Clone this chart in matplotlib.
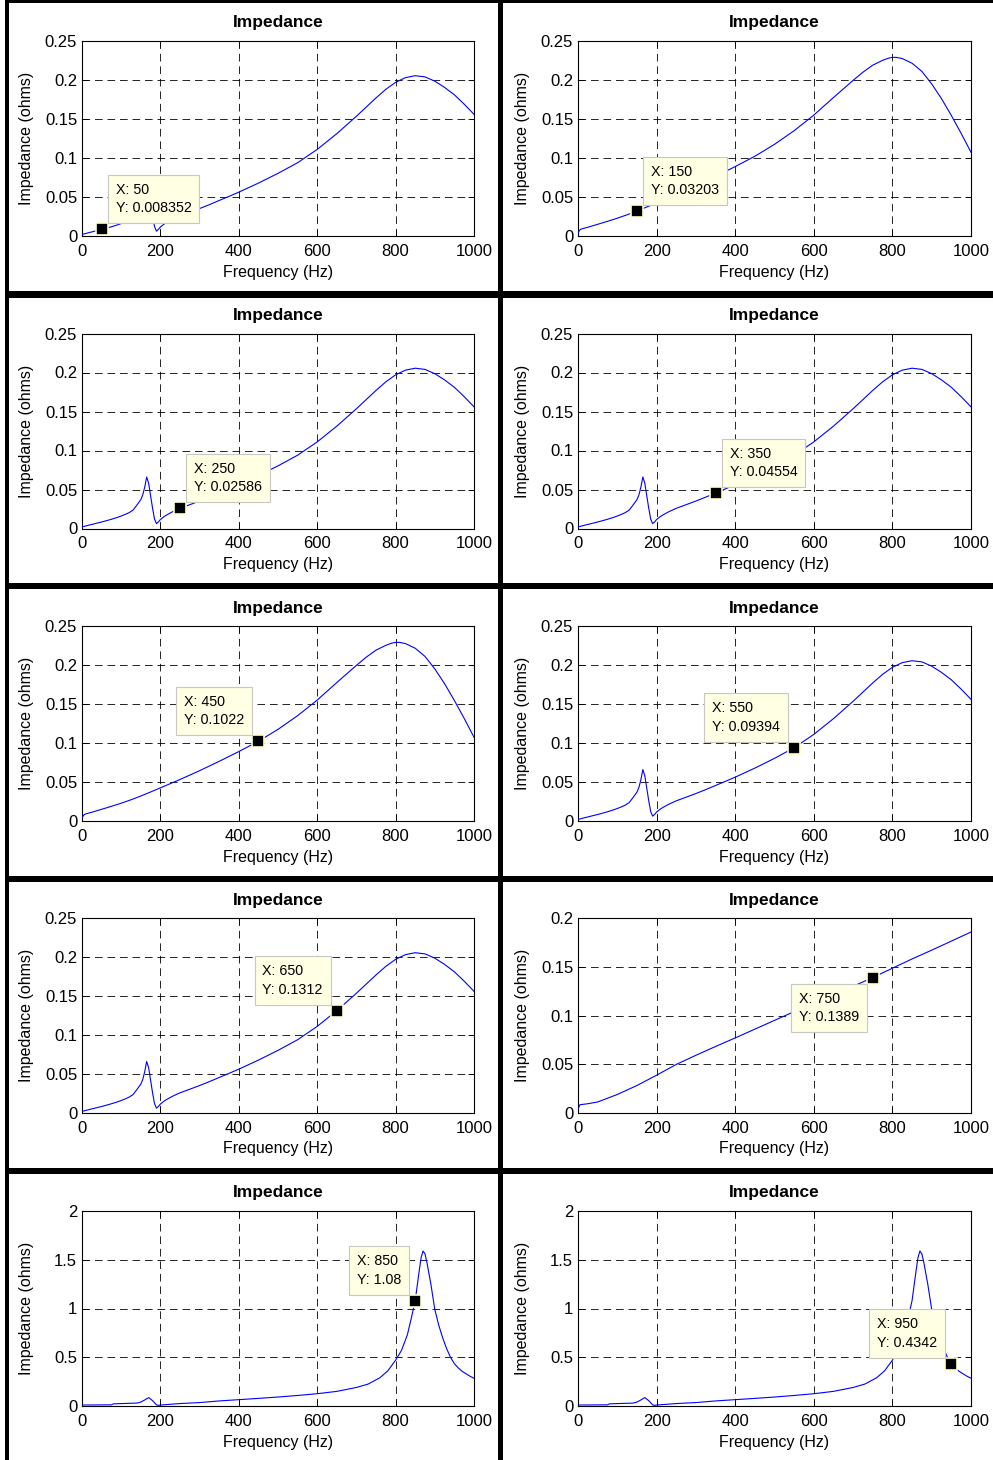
import matplotlib
matplotlib.use("Agg")
import matplotlib.pyplot as plt
from matplotlib.patches import Rectangle
from matplotlib.ticker import FuncFormatter

plt.rcParams["font.family"] = ["Liberation Sans", "DejaVu Sans"]
plt.rcParams["lines.scale_dashes"] = False

# ---- impedance curves (ohms) vs frequency (Hz) ----
freq_a = [0, 10, 20, 30, 40, 50, 60, 70, 80, 90, 100, 110, 120, 130, 140, 150,
          155, 160, 165, 170, 175, 180, 185, 190, 195, 200, 210, 220, 230, 240,
          250, 275, 300, 325, 350, 375, 400, 450, 500, 550, 600, 650, 700, 750,
          775, 800, 825, 850, 875, 900, 925, 950, 975, 1000]
impedance_a = [0.0020, 0.0033, 0.0046, 0.0058, 0.0071, 0.008352, 0.0097, 0.0111,
               0.0126, 0.0142, 0.0160, 0.0180, 0.0203, 0.0235, 0.0300, 0.0370,
               0.0430, 0.0530, 0.0660, 0.0580, 0.0420, 0.0260, 0.0120, 0.0062,
               0.0085, 0.0115, 0.0155, 0.0185, 0.0212, 0.0236, 0.02586, 0.0305,
               0.0352, 0.0402, 0.04554, 0.0508, 0.0562, 0.0678, 0.0803, 0.09394,
               0.1110, 0.1312, 0.1535, 0.1770, 0.1880, 0.1970, 0.2030, 0.2055,
               0.2040, 0.1985, 0.1905, 0.1810, 0.1690, 0.1560]

freq_b = [0, 5, 10, 25, 50, 75, 100, 125, 150, 175, 200, 250, 300, 350, 400,
          450, 500, 550, 600, 650, 700, 725, 750, 775, 790, 800, 810, 825, 850,
          875, 900, 925, 950, 975, 1000]
impedance_b = [0.0040, 0.0080, 0.0092, 0.0112, 0.0150, 0.0188, 0.0228, 0.0272,
               0.03203, 0.0372, 0.0425, 0.0532, 0.0645, 0.0765, 0.0890, 0.1022,
               0.1175, 0.1350, 0.1550, 0.1775, 0.1995, 0.2100, 0.2190, 0.2252,
               0.2280, 0.2290, 0.2290, 0.2275, 0.2215, 0.2110, 0.1950, 0.1760,
               0.1545, 0.1315, 0.1074]

freq_c = [0, 5, 25, 50, 100, 150, 200, 250, 300, 350, 400, 450, 500, 550, 600,
          650, 700, 750, 800, 850, 900, 950, 1000]
impedance_c = [0.0040, 0.0085, 0.0095, 0.0113, 0.0190, 0.0282, 0.0388, 0.0498,
               0.0592, 0.0682, 0.0770, 0.0860, 0.0950, 0.1040, 0.1125, 0.1212,
               0.1300, 0.1389, 0.1485, 0.1580, 0.1670, 0.1763, 0.1856]

freq_d = [0, 75, 80, 140, 150, 160, 170, 180, 190, 195, 200, 250, 300, 350, 400,
          450, 500, 550, 600, 650, 700, 730, 760, 780, 800, 815, 830, 840, 850,
          860, 865, 870, 875, 880, 890, 900, 910, 920, 930, 940, 950, 960, 970,
          980, 990, 1000]
impedance_d = [0.010, 0.012, 0.022, 0.030, 0.040, 0.062, 0.086, 0.055, 0.012,
               0.006, 0.010, 0.025, 0.035, 0.052, 0.065, 0.078, 0.092, 0.108,
               0.126, 0.150, 0.190, 0.225, 0.290, 0.360, 0.470, 0.570, 0.730,
               0.900, 1.08, 1.38, 1.52, 1.59, 1.56, 1.47, 1.25, 0.99, 0.83,
               0.70, 0.59, 0.50, 0.4342, 0.390, 0.355, 0.330, 0.305, 0.285]

curves = {"a": (freq_a, impedance_a), "b": (freq_b, impedance_b),
          "c": (freq_c, impedance_c), "d": (freq_d, impedance_d)}

# panel order: row by row, left then right
panel_curve = ["a", "b", "a", "a", "b", "a", "a", "c", "d", "d"]
tip_x = [50, 150, 250, 350, 450, 550, 650, 750, 850, 950]
tip_y = [0.008352, 0.03203, 0.02586, 0.04554, 0.1022, 0.09394, 0.1312,
         0.1389, 1.08, 0.4342]
tip_side = ["ur", "ur", "ur", "ur", "ul", "ul", "ul", "ll", "ul", "ul"]

x_ticks = [0, 200, 400, 600, 800, 1000]
y_ticks = {"a": [0, 0.05, 0.1, 0.15, 0.2, 0.25],
           "b": [0, 0.05, 0.1, 0.15, 0.2, 0.25],
           "c": [0, 0.05, 0.1, 0.15, 0.2],
           "d": [0, 0.5, 1, 1.5, 2]}

title_text = "Impedance"
xlabel_text = "Frequency (Hz)"
ylabel_text = "Impedance (ohms)"

# ---- figure geometry in pixels (origin top-left) ----
W, H = 993, 1460
fig = plt.figure(figsize=(W / 100, H / 100), dpi=100)
fig.patch.set_facecolor("white")


def frac_rect(x0, y0, x1, y1):
    return [x0 / W, 1 - y1 / H, (x1 - x0) / W, (y1 - y0) / H]


col_x0 = [82, 578]
col_x1 = [474, 971]
row_y0 = [41, 333.5, 626, 918, 1211]
ax_h = 195

fmt = FuncFormatter(lambda v, pos: f"{v:g}")

for i in range(10):
    r, c = divmod(i, 2)
    ax = fig.add_axes(frac_rect(col_x0[c], row_y0[r], col_x1[c], row_y0[r] + ax_h))
    key = panel_curve[i]
    fx, fy = curves[key]
    ax.plot(fx, fy, color="#0000FF", lw=0.8, zorder=3)

    yt = y_ticks[key]
    ax.set_xlim(0, 1000)
    ax.set_ylim(yt[0], yt[-1])
    ax.set_xticks(x_ticks)
    ax.set_yticks(yt)
    ax.xaxis.set_major_formatter(fmt)
    ax.yaxis.set_major_formatter(fmt)
    ax.tick_params(direction="in", length=4, width=0.6, top=True, right=True,
                   labelsize=12, colors="black")
    ax.tick_params(axis="x", pad=5.5)
    ax.tick_params(axis="y", pad=3.5)
    ax.grid(True, color="black", linestyle=(0, (5.5, 3.5)), linewidth=0.6)
    for sp in ax.spines.values():
        sp.set_linewidth(0.8)
        sp.set_color("black")

    ax.text(0.5, 1 + 18 / ax_h, title_text, transform=ax.transAxes,
            ha="center", va="center", fontsize=12.5, fontweight="bold")
    ax.set_xlabel(xlabel_text, fontsize=11.5)
    ax.set_ylabel(ylabel_text, fontsize=11.5)
    ax.xaxis.set_label_coords(0.5, -36 / ax_h)
    ax.xaxis.label.set_va("center")
    ax.yaxis.set_label_coords(-55 / 392, 0.5)
    ax.yaxis.label.set_va("center")

    # data tip
    tx, ty = tip_x[i], tip_y[i]
    ax.plot([tx], [ty], "s", ms=8.5, mfc="black", mec="#FFFFD0", mew=1.2,
            zorder=6, clip_on=False)
    side = tip_side[i]
    gap = 7 + 7
    dx = gap if side[1] == "r" else -gap
    dy = gap if side[0] == "u" else -gap
    ax.annotate(f"X: {tx:g}\nY: {ty:.4g}", xy=(tx, ty), xytext=(dx, dy),
                textcoords="offset pixels",
                ha="left" if side[1] == "r" else "right",
                va="bottom" if side[0] == "u" else "top",
                multialignment="left",
                fontsize=10.3, linespacing=1.4, zorder=7,
                bbox=dict(boxstyle="square,pad=0.55", fc="#FFFFE4",
                          ec="#C8C8C0", lw=0.8))

# ---- table frame around the panels ----
def bar(x0, y0, x1, y1):
    fig.add_artist(Rectangle((x0 / W, 1 - y1 / H), (x1 - x0) / W, (y1 - y0) / H,
                             transform=fig.transFigure, facecolor="black",
                             edgecolor="none", zorder=10))


bar(5, 0, W, 2.5)
bar(5, 0, 8.5, H)
bar(498, 0, 503, H)
for yc in [294.5, 585.5, 879, 1170.5]:
    bar(5, yc - 3, W, yc + 3)

fig.savefig("out.png", dpi=100)
